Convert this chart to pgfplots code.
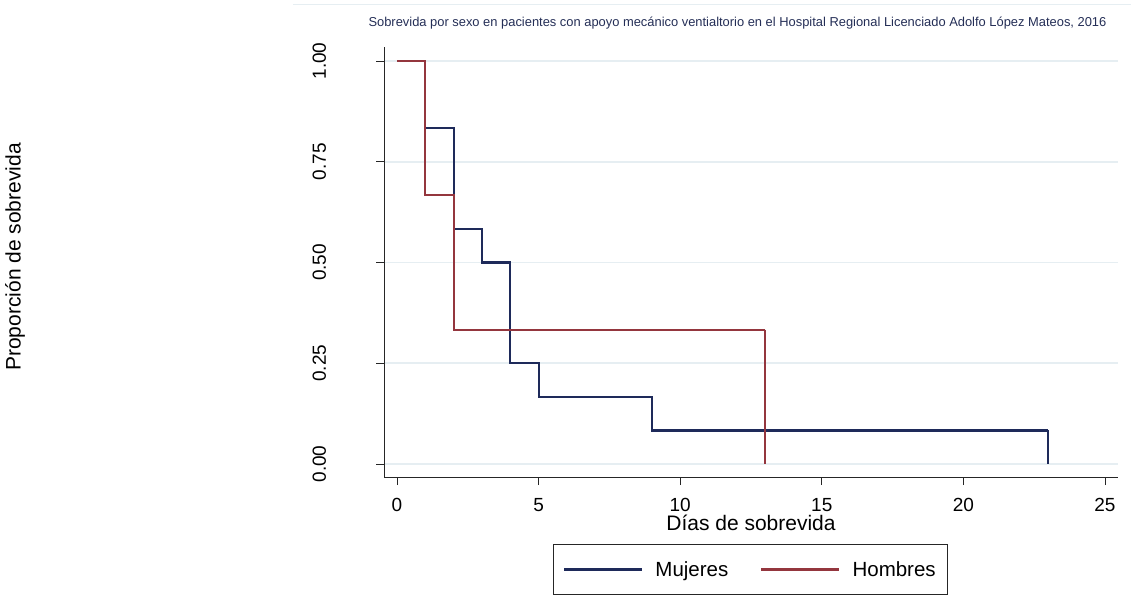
\documentclass[border=0pt]{standalone}
\usepackage{fontspec}
\setmainfont{Liberation Sans}
\usepackage{pgfplots}
\pgfplotsset{compat=1.18}

\definecolor{stnavy}{RGB}{30,42,90}
\definecolor{stmaroon}{RGB}{148,54,62}
\definecolor{gridc}{RGB}{230,238,242}
\definecolor{titlec}{RGB}{36,46,86}

\begin{document}
\begin{tikzpicture}[x=1pt,y=1pt]
\path[use as bounding box] (0,0) rectangle (1131,611);
\draw[color=gridc, line width=1pt] (293,606) -- (1131,606);
\begin{axis}[
  at={(384pt,134pt)}, anchor=south west,
  scale only axis, width=734pt, height=430pt,
  xmin=-0.46, xmax=25.46, ymin=-0.0323, ymax=1.0348,
  axis lines=left,
  axis line style={-, line width=0.9pt, black!85},
  tick align=outside, major tick length=8pt,
  tick style={black!85, line width=0.9pt},
  xtick={0,5,10,15,20,25},
  ytick={0,0.25,0.5,0.75,1},
  ymajorgrids,
  major grid style={gridc, line width=1.6pt},
  /pgf/number format/assume math mode=true,
  ticklabel style={font=\fontsize{19}{22}\selectfont},
  xticklabel style={anchor=base},
  xticklabel shift=26pt,
  yticklabel style={rotate=90, anchor=base,
    /pgf/number format/.cd, fixed, fixed zerofill, precision=2},
  yticklabel shift=50pt,
  xlabel={Días de sobrevida},
  xlabel style={at={(axis description cs:0.5,-0.1233)}, anchor=base,
    font=\fontsize{21}{24}\selectfont},
  ylabel={Proporción de sobrevida},
  ylabel style={at={(axis description cs:-0.5027,0.5116)}, anchor=center,
    font=\fontsize{21}{24}\selectfont},
  title={Sobrevida por sexo en pacientes con apoyo mecánico ventialtorio en el Hospital Regional Licenciado Adolfo López Mateos, 2016},
  title style={at={(axis description cs:0.4816,1.0326)}, anchor=base,
    font=\fontsize{12.9}{15}\selectfont, text=titlec},
  legend columns=2,
  legend style={at={(axis description cs:0.4993,-0.2151)}, anchor=center,
    draw=black!85, line width=0.9pt, font=\fontsize{20.5}{24}\selectfont,
    inner xsep=9.5pt, inner ysep=14.5pt,
    /tikz/every odd column/.append style={column sep=10pt},
    /tikz/every even column/.append style={column sep=30pt}},
  legend cell align=left,
  legend image code/.code={\draw[#1, line width=2.2pt] (0pt,0pt) -- (78pt,0pt);},
  every axis plot/.append style={line width=2.2pt, line join=miter},
]
% Kaplan-Meier estimate, women
\addplot[stnavy, const plot] coordinates {
  (0,1) (1,0.8333) (2,0.5833) (3,0.5) (4,0.25) (5,0.1667) (9,0.0833) (23,0.0833)
};
\addlegendentry{Mujeres}
\addplot[stnavy, forget plot] coordinates {(23,0.0833) (23,0)};
% Kaplan-Meier estimate, men
\addplot[stmaroon, const plot] coordinates {
  (0,1) (1,0.6667) (2,0.3333) (13,0.3333)
};
\addlegendentry{Hombres\hspace{5pt}}
\addplot[stmaroon, forget plot] coordinates {(13,0.3333) (13,0)};
\end{axis}
\end{tikzpicture}
\end{document}
